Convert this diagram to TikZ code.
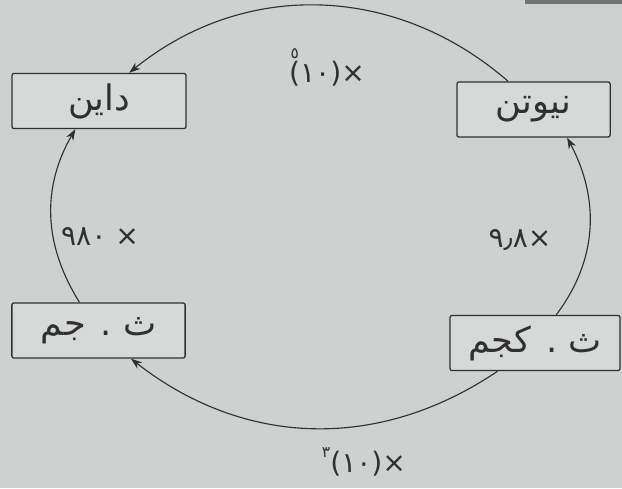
\documentclass[tikz,border=0pt]{standalone}
\usepackage{fontspec}
\usepackage{xcolor}
\usetikzlibrary{arrows.meta}
\newfontfamily\arabicfont[Script=Arabic]{DejaVu Sans}
\newfontfamily\digitfont{DejaVu Sans}
\TeXXeTstate=1
\definecolor{paper}{HTML}{CDD1D0}
\definecolor{boxfill}{HTML}{D6D9D8}
\definecolor{ink}{HTML}{303030}

\begin{document}
\begin{tikzpicture}[x=0.025cm, y=0.025cm,
    unitbox/.style={rectangle, draw=ink, line width=0.9pt, rounded corners=1.5pt, fill=boxfill, minimum height=1.38cm, text=ink, font=\arabicfont\fontsize{25}{28}\selectfont},
    fac/.style={text=ink, inner sep=1pt, font=\digitfont\fontsize{20}{22}\selectfont},
    arc/.style={draw=ink, line width=0.8pt, -{Stealth[length=2.8mm,width=2mm]}}]

    \useasboundingbox[fill=paper] (0,0) rectangle (622,488);
    \fill[black!55] (525,484) rectangle (622,488);

    \node[unitbox, minimum width=4.35cm] (dyne) at (99,387) {\beginR داين\endR};
    \node[unitbox, minimum width=3.83cm] (newton) at (533.5,378.5) {\beginR نيوتن\endR};
    \node[unitbox, minimum width=4.33cm] (gs) at (98.5,157.5) {\beginR ث . جم\endR};
    \node[unitbox, minimum width=4.25cm] (kgs) at (535,145) {\beginR ث . كجم\endR};

    \node[fac] (f5) at (327,421) {\rlap{\kern1pt\raisebox{17pt}{\fontsize{11}{11}\selectfont ٥}}(١٠)×};
    \node[fac] (f980) at (100,251) {٩٨٠ ×};
    \node[fac] (f98) at (520,248) {٩٫٨×};
    \node[fac] (f3) at (364,26) {\raisebox{11pt}{\fontsize{11}{11}\selectfont ٣}(١٠)×};

    \draw[arc] (newton.132) to[out=139, in=39] (dyne.43);
    \draw[arc] (gs.124) to[out=122, in=-120] (dyne.230);
    \draw[arc] (kgs.53) to[out=53, in=-62] (newton.-40);
    \draw[arc] (kgs.217) to[out=214, in=-38] (gs.-41);
\end{tikzpicture}
\end{document}
